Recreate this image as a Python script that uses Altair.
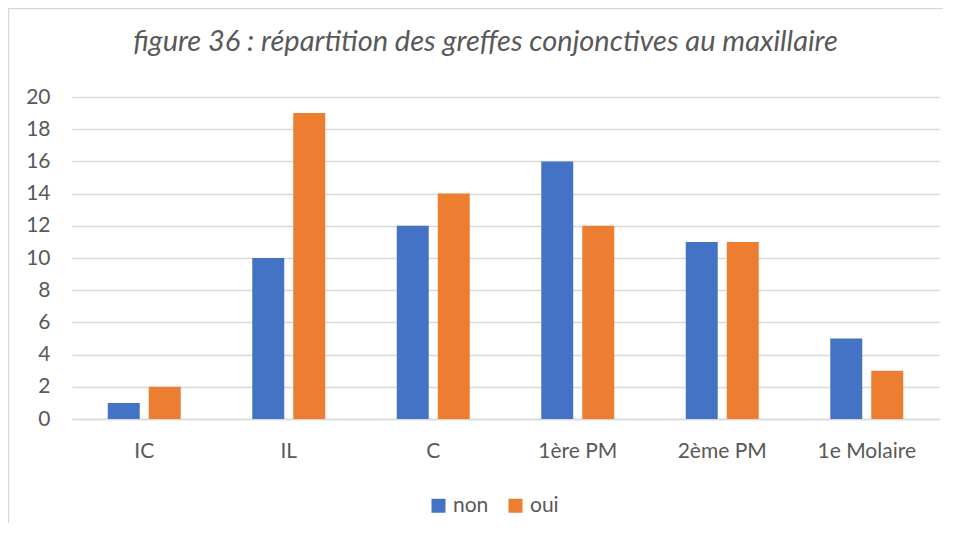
import altair as alt
import pandas as pd

categories = ["IC", "IL", "C", "1ère PM", "2ème PM", "1e Molaire"]
series = ["non", "oui"]
non_values = [1, 10, 12, 16, 11, 5]
oui_values = [2, 19, 14, 12, 11, 3]
y_ticks = list(range(0, 21, 2))
colors = ["#4472C4", "#ED7D31"]
title_text = "figure 36 : répartition des greffes conjonctives au maxillaire"

rows = []
for c, n, o in zip(categories, non_values, oui_values):
    rows.append({"cat": c, "serie": "non", "val": n})
    rows.append({"cat": c, "serie": "oui", "val": o})
df = pd.DataFrame(rows)

FONT = "Lato"
GREY = "#595959"
GRID = "#D9D9D9"

bars = alt.Chart(df).mark_bar().encode(
    x=alt.X("cat:N", sort=categories,
            scale=alt.Scale(paddingInner=0.495, paddingOuter=0.2475),
            axis=alt.Axis(title=None, labelAngle=0, labelFontSize=21, labelFont=FONT,
                          labelColor=GREY, ticks=False, domain=True, domainColor=GRID,
                          domainWidth=1.5, labelPadding=21)),
    xOffset=alt.XOffset("serie:N", sort=series,
                        scale=alt.Scale(paddingInner=0.22, paddingOuter=0)),
    y=alt.Y("val:Q", scale=alt.Scale(domain=[0, 20], nice=False),
            axis=alt.Axis(title=None, values=y_ticks, labelFontSize=21, labelFont=FONT,
                          labelColor=GREY, ticks=False, domain=False, grid=True,
                          gridColor=GRID, gridWidth=1.5, labelPadding=22)),
    color=alt.Color("serie:N", sort=series,
                    scale=alt.Scale(domain=series, range=colors),
                    legend=alt.Legend(title=None, orient="none", direction="horizontal",
                                      legendX=356, legendY=398, symbolType="square",
                                      symbolSize=196, symbolStrokeWidth=0,
                                      labelFontSize=21, labelFont=FONT, labelColor=GREY,
                                      columnPadding=16, padding=0, labelOffset=4)),
)

frame_df = pd.DataFrame({"k": [0]})
left_border = alt.Chart(frame_df).mark_rule(color=GRID, strokeWidth=1.5).encode(
    x=alt.value(-63.5), y=alt.value(-89), y2=alt.value(440))
top_border = alt.Chart(frame_df).mark_rule(color=GRID, strokeWidth=1.5).encode(
    y=alt.value(-88.5), x=alt.value(-64), x2=alt.value(900))

chart = alt.layer(left_border, top_border, bars).properties(
    width=867, height=322,
    title=alt.TitleParams(title_text, font=FONT, fontSize=29, fontStyle="italic",
                          fontWeight="normal", color=GREY, anchor="middle",
                          baseline="alphabetic", dx=-20, offset=-73),
    autosize=alt.AutoSizeParams(type="none"),
    padding={"left": 64, "top": 89, "right": 4, "bottom": 104},
).configure_view(stroke=None)

chart.save("out.html", embed_options={"renderer": "svg", "actions": False})
